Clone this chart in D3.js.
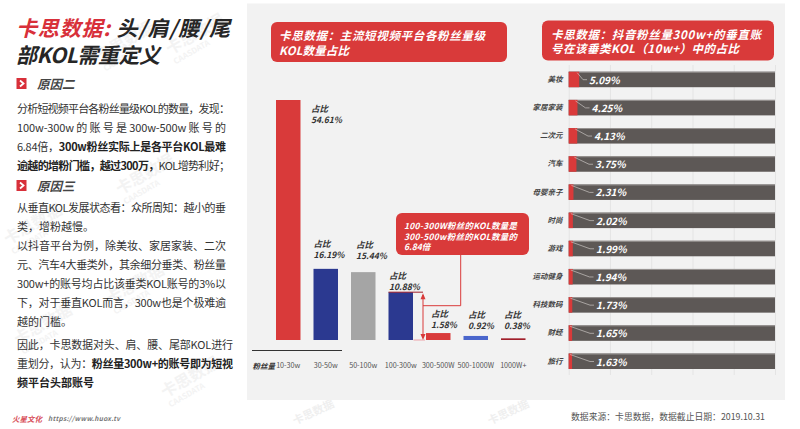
<!DOCTYPE html>
<html>
<head>
<meta charset="utf-8">
<script src="https://cdn.jsdelivr.net/npm/d3@7"></script>
<style>
  html, body { margin: 0; padding: 0; background: #fff; }
  svg { display: block; }
  text { font-family: "Noto Sans CJK SC", "Noto Sans", sans-serif; }
</style>
</head>
<body>
<svg id="chart" width="800" height="429"></svg>
<script>
// fan count buckets
const fanCats = ['10-30w', '30-50w', '50-100w', '100-300w', '300-500W', '500-1000W', '1000W+'];
const fanShare = [54.61, 16.19, 15.44, 10.88, 1.58, 0.92, 0.38];
const fanColors = ['#d93a3a', '#2b3990', '#a5a5a5', '#2b3990', '#d93a3a', '#4a66cc', '#a01f2a'];

// verticals
const verticals = ['美妆', '家居家装', '二次元', '汽车', '母婴亲子', '时尚', '游戏', '运动健身', '科技数码', '财经', '旅行'];
const verticalShare = [5.09, 4.25, 4.13, 3.75, 2.31, 2.02, 1.99, 1.94, 1.73, 1.65, 1.63];

// left column copy, second item of a pair means bold
const bodyLines = [
  [['分析短视频平台各粉丝量级KOL的数量，发现：', 0]],
  [['100w-300w 的 账 号 是 300w-500w 账 号 的', 0]],
  [['6.84倍，', 0], ['300w粉丝实际上是各平台KOL最难', 1]],
  [['逾越的增粉门槛，越过300万，', 1], ['KOL增势利好；', 0]],
  [['从垂直KOL发展状态看：众所周知：越小的垂', 0]],
  [['类，增粉越慢。', 0]],
  [['以抖音平台为例，除美妆、家居家装、二次', 0]],
  [['元、汽车4大垂类外，其余细分垂类、粉丝量', 0]],
  [['300w+的账号均占比该垂类KOL账号的3%以', 0]],
  [['下，对于垂直KOL而言，300w也是个极难逾', 0]],
  [['越的门槛。', 0]],
  [['因此，卡思数据对头、肩、腰、尾部KOL进行', 0]],
  [['重划分，认为：', 0], ['粉丝量300w+的账号即为短视', 1]],
  [['频平台头部账号', 1]]
];
const bodyY = [109, 127.5, 147, 166, 208, 227, 246, 265, 284, 302.5, 322, 345, 364, 382.5];
const bodyWidth = [213, 209, 209, 213, 209, 0, 209, 209, 209, 209, 0, 216, 216, 0];

const red = '#d93a3a';
const svg = d3.select('#chart');

// watermarks sit under everything
const marks = [[100, 62], [170, 55], [8, 245], [120, 195], [18, 345], [110, 305], [165, 398]];
marks.forEach(m => {
  const g = svg.append('g').attr('transform', `translate(${m[0]},${m[1]}) rotate(-30)`).attr('fill', '#f3f3f3');
  g.append('text').attr('font-size', 16).attr('font-weight', 700).text('卡思数据');
  g.append('text').attr('y', 11).attr('font-size', 8).attr('font-weight', 700).text('CAASDATA');
});
[[295, 425], [490, 425]].forEach(m => {
  svg.append('text').attr('transform', `translate(${m[0]},${m[1]}) rotate(-25)`).attr('fill', '#efefef')
    .attr('font-size', 11).attr('font-weight', 700).text('卡思数据');
});

// panel
svg.append('rect').attr('x', 247).attr('y', 3.5).attr('width', 538).attr('height', 396.5).attr('fill', '#f2f2f2');

// title
const title = svg.append('g').attr('font-size', 21).attr('font-weight', 700).attr('font-style', 'italic').attr('fill', '#262626');
const t1 = title.append('text').attr('x', 16).attr('y', 35.5).attr('textLength', 214);
t1.append('tspan').attr('fill', '#d8303a').text('卡思数据: ');
t1.append('tspan').text('头/肩/腰/尾');
title.append('text').attr('x', 16).attr('y', 62.5).attr('textLength', 144).text('部KOL需重定义');

// section heads
[['原因二', 84], ['原因三', 186]].forEach(h => {
  svg.append('rect').attr('x', 16.5).attr('y', h[1] - 6).attr('width', 10).attr('height', 11).attr('fill', '#d8303a');
  svg.append('path').attr('d', `M20 ${h[1] - 3.5}L23.5 ${h[1] - 0.5}L20 ${h[1] + 2.5}`)
    .attr('fill', 'none').attr('stroke', '#fff').attr('stroke-width', 1.8);
  svg.append('text').attr('x', 37).attr('y', h[1] + 4.5).attr('font-size', 12.5).attr('font-weight', 700)
    .attr('font-style', 'italic').attr('fill', '#444').text(h[0]);
});

// body copy
bodyLines.forEach((line, i) => {
  const t = svg.append('text').attr('x', 17).attr('y', bodyY[i] + 4).attr('font-size', 11).attr('fill', '#333');
  if (bodyWidth[i]) t.attr('textLength', bodyWidth[i]);
  line.forEach(seg => {
    t.append('tspan').attr('font-weight', seg[1] ? 700 : 400).attr('fill', seg[1] ? '#222' : '#333').text(seg[0]);
  });
});

// footer
svg.append('text').attr('x', 12).attr('y', 421.5).attr('font-size', 7.5).attr('font-weight', 700).attr('font-style', 'italic')
  .attr('fill', '#d8505a').text('火星文化');
svg.append('text').attr('x', 48).attr('y', 421).attr('textLength', 72).attr('font-size', 6.5).attr('font-weight', 700).attr('font-style', 'italic')
  .attr('fill', '#777').text('https://www.huox.tv');
svg.append('text').attr('x', 571).attr('y', 419.5).attr('textLength', 194).attr('font-size', 8.8).attr('fill', '#555')
  .text('数据来源：卡思数据，数据截止日期：2019.10.31');

// red header boxes, lines live in one text element
function headBox(x, y, w, h, lines, size, tx, ys, len) {
  svg.append('rect').attr('x', x).attr('y', y).attr('width', w).attr('height', h).attr('rx', 6).attr('fill', red);
  const t = svg.append('text').attr('font-size', size).attr('font-weight', 700)
    .attr('font-style', 'italic').attr('fill', '#fff');
  lines.forEach((l, i) => {
    const s = t.append('tspan').attr('x', tx).attr('y', ys[i]).text(l);
    if (len && len[i]) s.attr('textLength', len[i]);
  });
}
headBox(271, 22, 236, 40, ['卡思数据：主流短视频平台各粉丝量级', 'KOL数量占比'], 11.5, 279, [40, 55], [206, 70]);
headBox(542, 20.5, 232, 40, ['卡思数据：抖音粉丝量300w+的垂直账', '号在该垂类KOL（10w+）中的占比'], 11.5, 551, [38.5, 53], [210, 188]);

// vertical bars
const x = d3.scaleBand().domain(fanCats).range([276, 525.5]).paddingInner(0.347);
const y = d3.scaleLinear().domain([0, 54.61]).range([340, 100]);

svg.append('g').selectAll('rect').data(fanCats).enter().append('rect')
  .attr('x', d => x(d))
  .attr('y', (d, i) => y(fanShare[i]))
  .attr('width', x.bandwidth())
  .attr('height', (d, i) => y(0) - y(fanShare[i]))
  .attr('fill', (d, i) => fanColors[i]);

const xAxis = svg.append('g').attr('transform', 'translate(0,360)').call(d3.axisBottom(x).tickSize(0));
xAxis.select('.domain').remove();
xAxis.selectAll('text').attr('font-size', 7.2).attr('fill', '#555').attr('font-family', '"Noto Sans", sans-serif');
svg.append('line').attr('x1', 252).attr('x2', 342).attr('y1', 350.5).attr('y2', 350.5).attr('stroke', '#333');
svg.append('text').attr('x', 252.5).attr('y', 368.5).attr('font-size', 7.5).attr('font-weight', 700).attr('font-style', 'italic')
  .attr('fill', '#333').text('粉丝量');

// value labels, offsets from the bar top
const labelDx = [35, 0, 5, 0.5, 5, 4.5, 3];
const labelDy = [23, -10.5, -13, -2, -5, -7, -9];
fanCats.forEach((c, i) => {
  const lx = x(c) + labelDx[i];
  const ly = y(fanShare[i]) + labelDy[i];
  const t = svg.append('text').attr('font-size', 8.5).attr('font-weight', 700).attr('font-style', 'italic').attr('fill', '#333');
  t.append('tspan').attr('x', lx).attr('y', ly - 11).text('占比');
  t.append('tspan').attr('x', lx).attr('y', ly).text(fanShare[i].toFixed(2) + '%');
});

// gap annotation
const ann = y(fanShare[3]);
svg.append('line').attr('x1', x('100-300w')).attr('x2', 423).attr('y1', ann).attr('y2', ann).attr('stroke', '#a01f2a').attr('stroke-width', 1);
svg.append('line').attr('x1', x('100-300w') + 25).attr('x2', 425).attr('y1', y(0)).attr('y2', y(0)).attr('stroke', '#eeb0b5').attr('stroke-width', 1.2);
svg.append('line').attr('x1', 423).attr('x2', 423).attr('y1', ann + 3).attr('y2', y(0) - 3).attr('stroke', red).attr('stroke-width', 1);
svg.append('path').attr('d', `M423 ${ann + 1}l-2.5 6h5zM423 ${y(0)}l-2.5 -6h5z`).attr('fill', red);
svg.append('path').attr('d', 'M460.7 255V305.7H423').attr('fill', 'none').attr('stroke', red).attr('stroke-width', 1);
headBox(396, 213, 133, 42, ['100-300W粉丝的KOL数量是', '300-500w粉丝的KOL数量的', '6.84倍'], 8.5, 404, [228.5, 239.5, 250], [113, 113, 0]);

// horizontal stacked bars
const hx = d3.scaleLinear().domain([0, 100]).range([568.7, 775]);
const hy = d3.scaleBand().domain(verticals).range([71.7, 369]).paddingInner(0.45);

const grid = svg.append('g').attr('transform', 'translate(0,65)')
  .call(d3.axisBottom(hx).tickValues(d3.range(0, 101, 20)).tickSize(310).tickFormat(''));
grid.select('.domain').remove();
grid.selectAll('line').attr('stroke', '#e4e4e4');

const rows = svg.append('g').selectAll('g').data(verticals).enter().append('g');
rows.append('rect').attr('x', hx(0)).attr('y', d => hy(d)).attr('width', hx(100) - hx(0)).attr('height', hy.bandwidth()).attr('fill', '#5d5856');
rows.append('rect').attr('x', hx(0)).attr('y', d => hy(d)).attr('width', hx(100) - hx(0)).attr('height', 1).attr('fill', '#9a9694');
rows.append('rect').attr('x', hx(0)).attr('y', d => hy(d)).attr('width', (d, i) => hx(verticalShare[i]) - hx(0)).attr('height', hy.bandwidth()).attr('fill', red);

// leader lines run from the red part to the label
const labelX = [589, 591.5, 594, 595, 595.5, 596, 596, 595.5, 596, 596, 596];
rows.append('path')
  .attr('d', (d, i) => `M${hx(verticalShare[i]) - 2} ${hy(d) + 1}L${labelX[i] - 6} ${hy(d) + 8}H${labelX[i] - 2}`)
  .attr('fill', 'none').attr('stroke', '#c8c4c2').attr('stroke-width', 0.7);
rows.append('text').attr('x', (d, i) => labelX[i]).attr('y', d => hy(d) + 12)
  .attr('font-size', 10).attr('font-weight', 700).attr('font-style', 'italic').attr('fill', '#fff')
  .text((d, i) => verticalShare[i].toFixed(2) + '%');

const yAxis = svg.append('g').attr('transform', 'translate(562.5,0)').call(d3.axisLeft(hy).tickSize(0).tickPadding(0));
yAxis.select('.domain').remove();
yAxis.selectAll('text').attr('font-size', 7.5).attr('font-weight', 700).attr('font-style', 'italic').attr('fill', '#444')
  .attr('font-family', '"Noto Sans CJK SC", sans-serif');
</script>
</body>
</html>
